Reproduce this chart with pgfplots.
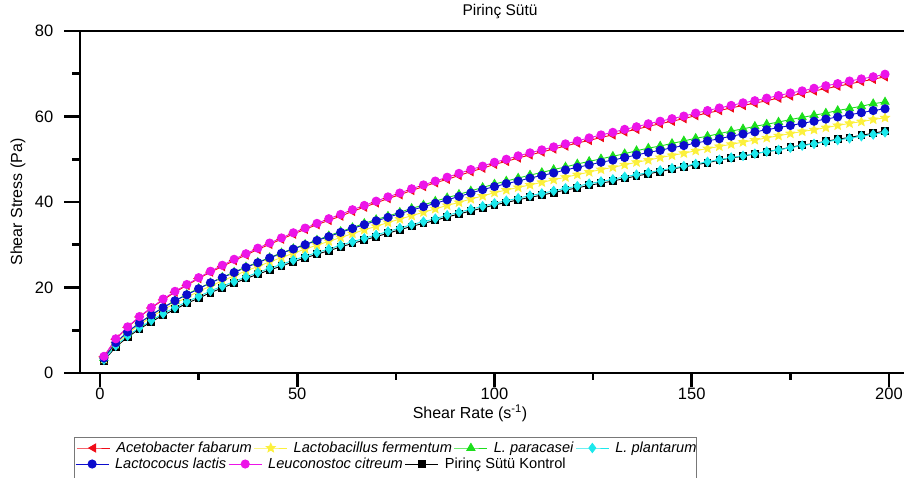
\documentclass[border=0pt]{standalone}
\usepackage{pgfplots}
\pgfplotsset{compat=1.18}
\usepackage{pgfplotstable}
\usepackage{fontspec}
\setmainfont{Liberation Sans}

\definecolor{cRed}{RGB}{240,12,24}
\definecolor{cYellow}{RGB}{252,240,60}
\definecolor{cGreen}{RGB}{28,222,28}
\definecolor{cCyan}{RGB}{28,232,236}
\definecolor{cBlue}{RGB}{12,12,205}
\definecolor{cMagenta}{RGB}{236,20,232}
\definecolor{cFrame}{RGB}{120,120,120}

% filled five-pointed star
\pgfdeclareplotmark{fstar}{%
  \pgfpathmoveto{\pgfpointpolar{90}{\pgfplotmarksize}}%
  \pgfpathlineto{\pgfpointpolar{126}{0.45*\pgfplotmarksize}}%
  \pgfpathlineto{\pgfpointpolar{162}{\pgfplotmarksize}}%
  \pgfpathlineto{\pgfpointpolar{198}{0.45*\pgfplotmarksize}}%
  \pgfpathlineto{\pgfpointpolar{234}{\pgfplotmarksize}}%
  \pgfpathlineto{\pgfpointpolar{270}{0.45*\pgfplotmarksize}}%
  \pgfpathlineto{\pgfpointpolar{306}{\pgfplotmarksize}}%
  \pgfpathlineto{\pgfpointpolar{342}{0.45*\pgfplotmarksize}}%
  \pgfpathlineto{\pgfpointpolar{18}{\pgfplotmarksize}}%
  \pgfpathlineto{\pgfpointpolar{54}{0.45*\pgfplotmarksize}}%
  \pgfpathclose
  \pgfusepathqfillstroke
}

% shear stress (Pa) against shear rate (1/s)
\pgfplotstableread{
x   acet  lacto para  plant lactoc leuco kontrol
1   3.8   3.3   3.5   3.1   3.5    3.9   2.9
4   7.9   6.8   7.1   6.4   7.1    8.0   6.1
7   10.7  9.2   9.6   8.7   9.6    10.8  8.4
10  13.1  11.3  11.7  10.6  11.7   13.2  10.3
13  15.2  13.1  13.6  12.3  13.6   15.3  12.0
16  17.1  14.8  15.3  13.9  15.3   17.3  13.5
19  18.9  16.3  16.9  15.3  16.9   19.1  14.9
22  20.5  17.7  18.4  16.7  18.3   20.7  16.3
25  22.1  19.1  19.8  17.9  19.7   22.3  17.5
28  23.6  20.3  21.1  19.2  21.1   23.8  18.8
31  24.9  21.6  22.4  20.3  22.3   25.2  19.9
34  26.3  22.7  23.6  21.4  23.5   26.6  21.0
37  27.6  23.9  24.8  22.5  24.7   27.9  22.1
40  28.9  24.9  25.9  23.5  25.8   29.2  23.1
43  30.1  26.0  27.0  24.5  26.9   30.4  24.1
46  31.3  27.0  28.1  25.4  28.0   31.6  25.0
49  32.5  28.0  29.1  26.4  29.0   32.8  26.0
52  33.6  29.0  30.1  27.3  30.0   33.9  26.9
55  34.7  29.9  31.1  28.2  31.0   35.0  27.8
58  35.7  30.8  32.1  29.0  31.9   36.1  28.6
61  36.7  31.7  33.1  29.9  32.9   37.1  29.5
64  37.8  32.6  34.0  30.7  33.8   38.2  30.3
67  38.8  33.5  35.0  31.5  34.7   39.2  31.1
70  39.8  34.3  35.9  32.3  35.6   40.2  31.9
73  40.8  35.2  36.7  33.1  36.4   41.2  32.7
76  41.7  36.0  37.6  33.9  37.3   42.1  33.5
79  42.7  36.8  38.5  34.7  38.1   43.1  34.3
82  43.6  37.6  39.3  35.4  38.9   44.0  35.0
85  44.5  38.4  40.2  36.1  39.7   44.9  35.7
88  45.3  39.2  41.0  36.9  40.5   45.8  36.5
91  46.2  39.9  41.8  37.6  41.3   46.7  37.2
94  47.1  40.7  42.6  38.3  42.1   47.6  37.9
97  47.9  41.4  43.4  39.0  42.9   48.4  38.6
100 48.8  42.2  44.2  39.7  43.6   49.3  39.3
103 49.5  42.8  44.9  40.3  44.3   50.0  39.9
106 50.3  43.4  45.6  40.9  44.9   50.8  40.5
109 51.0  44.0  46.3  41.5  45.6   51.5  41.1
112 51.7  44.6  46.9  42.0  46.2   52.2  41.6
115 52.4  45.2  47.6  42.6  46.8   52.9  42.2
118 53.1  45.8  48.2  43.2  47.5   53.6  42.8
121 53.8  46.4  48.9  43.7  48.1   54.3  43.3
124 54.4  47.0  49.5  44.3  48.7   55.0  43.9
127 55.1  47.6  50.1  44.8  49.3   55.7  44.4
130 55.7  48.1  50.7  45.3  49.8   56.3  44.9
133 56.4  48.7  51.3  45.9  50.4   57.0  45.5
136 57.0  49.3  52.0  46.4  51.0   57.6  46.1
139 57.7  49.8  52.6  46.9  51.6   58.3  46.6
142 58.3  50.4  53.1  47.4  52.1   58.9  47.1
145 58.9  50.9  53.7  47.9  52.7   59.5  47.7
148 59.5  51.4  54.3  48.4  53.2   60.1  48.2
151 60.2  52.0  54.9  48.9  53.8   60.8  48.7
154 60.8  52.5  55.4  49.4  54.3   61.4  49.2
157 61.4  53.0  56.0  49.9  54.8   62.0  49.8
160 62.0  53.5  56.6  50.4  55.4   62.6  50.3
163 62.6  54.0  57.1  50.8  55.9   63.2  50.7
166 63.1  54.5  57.7  51.3  56.4   63.7  51.3
169 63.7  55.0  58.2  51.8  56.9   64.3  51.8
172 64.3  55.5  58.7  52.2  57.4   64.9  52.2
175 64.8  56.0  59.3  52.7  57.9   65.5  52.8
178 65.4  56.5  59.8  53.2  58.4   66.0  53.3
181 66.0  56.9  60.3  53.6  58.9   66.6  53.7
184 66.5  57.4  60.8  54.1  59.4   67.2  54.2
187 67.1  57.9  61.4  54.5  59.9   67.7  54.7
190 67.6  58.4  61.9  54.9  60.4   68.3  55.1
193 68.2  58.8  62.4  55.4  60.9   68.8  55.6
196 68.7  59.3  63.0  55.8  61.4   69.3  56.1
199 69.3  59.7  63.4  56.3  61.8   69.9  56.6
}\rheo

\pgfplotsset{
  series/.style={line width=0.9pt, mark options={solid}},
  legendrow/.style={
    legend style={draw=none, fill=none, inner sep=0pt, anchor=west,
      font=\fontsize{14.6}{17}\selectfont\itshape,
      nodes={inner sep=0pt},
      /tikz/every odd column/.append style={column sep=6pt},
      /tikz/every even column/.append style={column sep=2pt}},
    legend image code/.code={\draw[mark repeat=2,mark phase=2]
      plot coordinates {(0pt,0pt) (16.5pt,0pt) (33pt,0pt)};}
  },
  frame/.style={at={(80pt,-373pt)}, anchor=south west,
    scale only axis, width=830pt, height=342pt}
}

\begin{document}
\begin{tikzpicture}
\begin{axis}[
  frame,
  every axis/.append style={line width=2.8pt, tick style={line width=2.6pt}},
  xmin=-5.07, xmax=205.33, ymin=0, ymax=80,
  xtick={0,50,...,200}, minor x tick num=1,
  ytick={0,20,...,80}, minor y tick num=1,
  xtick pos=left, ytick pos=left, tick align=outside,
  tick style={black, line width=2.6pt},
  x tick style={/pgfplots/major tick length=14pt, /pgfplots/minor tick length=6.5pt},
  y tick style={/pgfplots/major tick length=16pt, /pgfplots/minor tick length=8pt},
  major tick length=15pt, minor tick length=7pt,
  ticklabel style={font=\fontsize{16.5}{19}\selectfont},
  xticklabel style={yshift=4.5pt},
  yticklabel style={xshift=-7pt},
  /pgf/number format/assume math mode=true,
  legendrow, legend columns=4,
  legend style={at={(-0.00602,-0.2193)}},
]
\addplot[series, black, mark=square*, mark size=3.4pt, forget plot] table[x=x, y=kontrol] {\rheo};
\addplot[series, cRed, mark=triangle*, mark size=4.6pt, mark options={rotate=90}] table[x=x, y=acet] {\rheo};
\addlegendentry{Acetobacter fabarum}
\addplot[series, cYellow, mark=fstar, mark size=4.6pt] table[x=x, y=lacto] {\rheo};
\addlegendentry{Lactobacillus fermentum}
\addplot[series, cGreen, mark=triangle*, mark size=4.6pt] table[x=x, y=para] {\rheo};
\addlegendentry{L. paracasei}
\addplot[series, cCyan, mark=diamond*, mark size=4.6pt] table[x=x, y=plant] {\rheo};
\addlegendentry{L. plantarum}
\addplot[series, cBlue, mark=*, mark size=4.1pt, forget plot] table[x=x, y=lactoc] {\rheo};
\addplot[series, cMagenta, mark=*, mark size=4.1pt, forget plot] table[x=x, y=leuco] {\rheo};
\end{axis}

% second legend row
\begin{axis}[
  frame, hide axis, xmin=0, xmax=1, ymin=0, ymax=1,
  legendrow, legend columns=3,
  legend style={at={(-0.00602,-0.2661)}},
]
\addlegendimage{series, cBlue, mark=*, mark size=4.1pt}
\addlegendentry{Lactococus lactis}
\addlegendimage{series, cMagenta, mark=*, mark size=4.1pt}
\addlegendentry{Leuconostoc citreum}
\addlegendimage{series, black, mark=square*, mark size=3.4pt}
\addlegendentry{\upshape Pirinç Sütü Kontrol}
\end{axis}

\draw[cFrame, line width=1pt] (74pt,-437pt) rectangle (696pt,-520pt);

\node[font=\fontsize{15.5}{18}\selectfont] at (500pt,-12pt) {Pirinç Sütü};
\node[font=\fontsize{16}{19}\selectfont, rotate=90] at (18pt,-202pt) {Shear Stress (Pa)};
\node[font=\fontsize{16}{19}\selectfont] at (470pt,-413pt) {Shear Rate (s\textsuperscript{-1})};

\pgfresetboundingbox
\useasboundingbox (0pt,0pt) rectangle (904pt,-477pt);
\end{tikzpicture}
\end{document}
